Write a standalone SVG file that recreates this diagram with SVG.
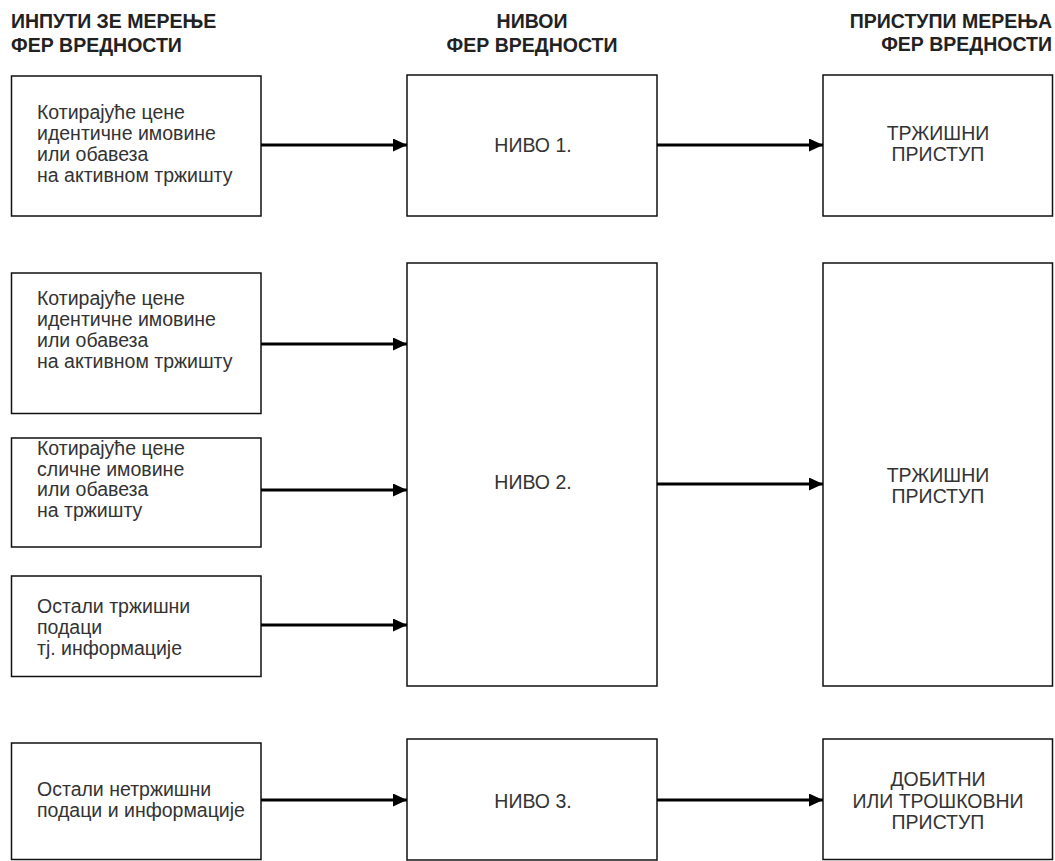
<svg xmlns="http://www.w3.org/2000/svg" width="1055" height="861" viewBox="0 0 1055 861">
<style>
.box{fill:#fff;stroke:#111;stroke-width:1.5}
.hdr{font-family:"Liberation Sans",Arial,sans-serif;font-weight:bold;font-size:19.5px;fill:#222}
.txt{font-family:"Liberation Sans",Arial,sans-serif;font-size:19.5px;fill:#333}
.ctr{text-anchor:middle}
.conn{stroke:#000;stroke-width:3;fill:none;marker-end:url(#ah)}
</style>
<defs>
<marker id="ah" markerUnits="userSpaceOnUse" markerWidth="14" markerHeight="13" refX="14" refY="6.5" orient="auto">
<path d="M0,0 L14,6.5 L0,13 Z" fill="#000"/>
</marker>
</defs>
<rect width="1055" height="861" fill="#fff"/>
<g id="headers">
<text class="hdr" x="11" y="28">ИНПУТИ ЗЕ МЕРЕЊЕ</text>
<text class="hdr" x="11" y="52">ФЕР ВРЕДНОСТИ</text>
<text class="hdr ctr" x="532" y="28">НИВОИ</text>
<text class="hdr ctr" x="532" y="52">ФЕР ВРЕДНОСТИ</text>
<text class="hdr" x="1052" y="28" text-anchor="end">ПРИСТУПИ МЕРЕЊА</text>
<text class="hdr" x="1052" y="51" text-anchor="end">ФЕР ВРЕДНОСТИ</text>
</g>
<g id="in1">
<rect class="box" x="11.5" y="76" width="249.5" height="140"/>
<text class="txt" x="37" y="119">Котирајуће цене</text>
<text class="txt" x="37" y="140">идентичне имовине</text>
<text class="txt" x="37" y="161">или обавеза</text>
<text class="txt" x="37" y="182">на активном тржишту</text>
</g>
<g id="in2">
<rect class="box" x="11.5" y="273" width="249.5" height="140.5"/>
<text class="txt" x="37" y="305">Котирајуће цене</text>
<text class="txt" x="37" y="326">идентичне имовине</text>
<text class="txt" x="37" y="347">или обавеза</text>
<text class="txt" x="37" y="368">на активном тржишту</text>
</g>
<g id="in3">
<rect class="box" x="11.5" y="438" width="249.5" height="109"/>
<text class="txt" x="37" y="455">Котирајуће цене</text>
<text class="txt" x="37" y="476">сличне имовине</text>
<text class="txt" x="37" y="496">или обавеза</text>
<text class="txt" x="37" y="517">на тржишту</text>
</g>
<g id="in4">
<rect class="box" x="11.5" y="576" width="249.5" height="100.5"/>
<text class="txt" x="37" y="613">Остали тржишни</text>
<text class="txt" x="37" y="634">подаци</text>
<text class="txt" x="37" y="655">тј. информације</text>
</g>
<g id="in5">
<rect class="box" x="11.5" y="743" width="249.5" height="116.5"/>
<text class="txt" x="37" y="796">Остали нетржишни</text>
<text class="txt" x="37" y="817">подаци и информације</text>
</g>
<g id="lvl1">
<rect class="box" x="407" y="75" width="250" height="141"/>
<text class="txt ctr" x="533" y="152">НИВО 1.</text>
</g>
<g id="lvl2">
<rect class="box" x="407" y="263" width="250" height="423"/>
<text class="txt ctr" x="533" y="489">НИВО 2.</text>
</g>
<g id="lvl3">
<rect class="box" x="407" y="739" width="250" height="121"/>
<text class="txt ctr" x="533" y="808">НИВО 3.</text>
</g>
<g id="app1">
<rect class="box" x="823" y="75" width="229.5" height="141"/>
<text class="txt ctr" x="938" y="140">ТРЖИШНИ</text>
<text class="txt ctr" x="938" y="161">ПРИСТУП</text>
</g>
<g id="app2">
<rect class="box" x="823" y="263" width="229.5" height="423"/>
<text class="txt ctr" x="938" y="482">ТРЖИШНИ</text>
<text class="txt ctr" x="938" y="503">ПРИСТУП</text>
</g>
<g id="app3">
<rect class="box" x="823" y="739" width="229.5" height="120.5"/>
<text class="txt ctr" x="938" y="786">ДОБИТНИ</text>
<text class="txt ctr" x="938" y="807.5">ИЛИ ТРОШКОВНИ</text>
<text class="txt ctr" x="938" y="829">ПРИСТУП</text>
</g>
<g id="connectors">
<line class="conn" x1="261" y1="145" x2="407" y2="145"/>
<line class="conn" x1="261" y1="344" x2="407" y2="344"/>
<line class="conn" x1="261" y1="490" x2="407" y2="490"/>
<line class="conn" x1="261" y1="625" x2="407" y2="625"/>
<line class="conn" x1="261" y1="800" x2="407" y2="800"/>
<line class="conn" x1="657" y1="145" x2="823" y2="145"/>
<line class="conn" x1="657" y1="484" x2="823" y2="484"/>
<line class="conn" x1="657" y1="800" x2="823" y2="800"/>
</g>
</svg>
